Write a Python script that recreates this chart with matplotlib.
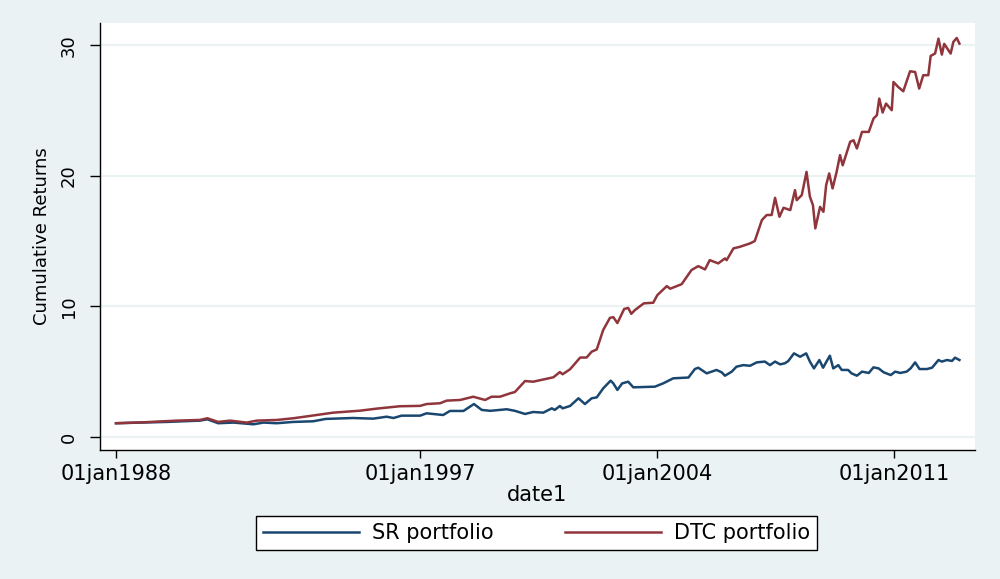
import matplotlib
matplotlib.use("Agg")
import matplotlib.pyplot as plt

# dates as decimal years
dtc_t = [1988.0, 1988.8, 1989.8, 1990.48, 1990.7, 1991.02, 1991.37, 1991.86, 1992.16, 1992.75,
         1993.24, 1993.93, 1994.42, 1995.21, 1995.71, 1996.39, 1996.99, 1997.18, 1997.58, 1997.77,
         1998.17, 1998.56, 1998.91, 1999.1, 1999.35, 1999.65, 1999.79, 2000.09, 2000.33, 2000.63,
         2000.93, 2001.12, 2001.2, 2001.42, 2001.72, 2001.91, 2002.06, 2002.21, 2002.4, 2002.6,
         2002.7, 2002.82, 2003.02, 2003.14, 2003.23, 2003.34, 2003.6, 2003.88, 2004.0, 2004.28,
         2004.38, 2004.72, 2005.01, 2005.21, 2005.41, 2005.55, 2005.8, 2006.0, 2006.05, 2006.25,
         2006.44, 2006.74, 2006.88, 2007.09, 2007.23, 2007.38, 2007.48, 2007.61, 2007.73, 2007.93,
         2008.07, 2008.12, 2008.27, 2008.41, 2008.51, 2008.6, 2008.67, 2008.81, 2008.91, 2008.99,
         2009.08, 2009.18, 2009.3, 2009.4, 2009.48, 2009.7, 2009.8, 2009.9, 2010.05, 2010.25,
         2010.39, 2010.49, 2010.56, 2010.66, 2010.76, 2010.93, 2010.98, 2011.12, 2011.27, 2011.47,
         2011.62, 2011.74, 2011.86, 2012.01, 2012.08, 2012.21, 2012.31, 2012.41, 2012.48, 2012.67,
         2012.75, 2012.85, 2012.93]
dtc_v = [1.05, 1.12, 1.25, 1.30, 1.43, 1.15, 1.25, 1.10, 1.25, 1.30,
         1.43, 1.68, 1.86, 2.01, 2.17, 2.35, 2.38, 2.52, 2.58, 2.78,
         2.83, 3.08, 2.83, 3.08, 3.08, 3.34, 3.44, 4.28, 4.23, 4.40,
         4.57, 4.97, 4.80, 5.18, 6.08, 6.08, 6.53, 6.70, 8.19, 9.12,
         9.17, 8.72, 9.80, 9.88, 9.43, 9.72, 10.23, 10.28, 10.86, 11.55,
         11.35, 11.70, 12.78, 13.08, 12.83, 13.54, 13.29, 13.67, 13.54, 14.44,
         14.56, 14.82, 15.0, 16.6, 16.99, 17.0, 18.31, 16.86, 17.55, 17.37,
         18.9, 18.13, 18.52, 20.3, 18.39, 17.75, 15.97, 17.62, 17.24, 19.28,
         20.18, 19.03, 20.3, 21.58, 20.8, 22.6, 22.72, 22.09, 23.36, 23.36,
         24.38, 24.64, 25.91, 24.84, 25.53, 25.02, 27.18, 26.8, 26.47, 28.0,
         27.95, 26.68, 27.7, 27.7, 29.18, 29.36, 30.5, 29.28, 30.1, 29.36,
         30.25, 30.55, 30.12]

sr_t = [1988.0, 1989.5, 1990.48, 1990.7, 1991.02, 1991.47, 1992.06, 1992.36, 1992.75, 1993.24,
        1993.83, 1994.2, 1995.0, 1995.6, 1996.0, 1996.2, 1996.44, 1996.99, 1997.18, 1997.67,
        1997.87, 1998.27, 1998.58, 1998.81, 1999.06, 1999.55, 1999.79, 2000.09, 2000.33, 2000.63,
        2000.88, 2000.97, 2001.12, 2001.2, 2001.42, 2001.67, 2001.86, 2002.06, 2002.21, 2002.4,
        2002.62, 2002.7, 2002.82, 2002.96, 2003.14, 2003.29, 2003.93, 2004.18, 2004.47, 2004.92,
        2005.11, 2005.21, 2005.46, 2005.75, 2005.9, 2006.0, 2006.2, 2006.34, 2006.54, 2006.74,
        2006.94, 2007.18, 2007.33, 2007.48, 2007.63, 2007.77, 2007.87, 2008.04, 2008.22, 2008.4,
        2008.51, 2008.63, 2008.79, 2008.9, 2009.0, 2009.1, 2009.2, 2009.35, 2009.45, 2009.64,
        2009.74, 2009.9, 2010.05, 2010.25, 2010.39, 2010.54, 2010.69, 2010.9, 2011.03, 2011.18,
        2011.37, 2011.49, 2011.62, 2011.75, 2011.97, 2012.12, 2012.31, 2012.41, 2012.56, 2012.71,
        2012.8, 2012.93]
sr_v = [1.05, 1.15, 1.25, 1.35, 1.05, 1.10, 0.97, 1.10, 1.05, 1.15,
        1.20, 1.38, 1.45, 1.40, 1.55, 1.45, 1.63, 1.63, 1.81, 1.68,
        1.99, 1.99, 2.52, 2.07, 2.0, 2.12, 2.0, 1.76, 1.91, 1.86,
        2.19, 2.07, 2.37, 2.19, 2.37, 2.96, 2.52, 2.96, 3.03, 3.72,
        4.31, 4.10, 3.60, 4.10, 4.23, 3.80, 3.85, 4.11, 4.49, 4.55,
        5.2, 5.3, 4.87, 5.13, 4.95, 4.69, 5.0, 5.38, 5.5, 5.45,
        5.71, 5.77, 5.5, 5.77, 5.56, 5.64, 5.81, 6.4, 6.14, 6.4,
        5.77, 5.25, 5.89, 5.3, 5.77, 6.22, 5.25, 5.5, 5.13, 5.13,
        4.87, 4.69, 5.0, 4.9, 5.33, 5.25, 4.95, 4.74, 5.0, 4.9,
        5.0, 5.26, 5.71, 5.2, 5.2, 5.3, 5.89, 5.77, 5.89, 5.82,
        6.07, 5.89]

x_ticks = [1988, 1997, 2004, 2011]
x_labels = ["01jan1988", "01jan1997", "01jan2004", "01jan2011"]
y_ticks = [0, 10, 20, 30]

bg = "#EAF2F3"
navy = "#1A476F"
maroon = "#90353B"

plt.rcParams["font.family"] = ["DejaVu Sans"]

fig = plt.figure(figsize=(10, 5.79), dpi=100, facecolor=bg)
ax = fig.add_axes([0.100, 0.2228, 0.875, 0.7375])
ax.set_facecolor("white")

ax.plot(sr_t, sr_v, color=navy, lw=1.8, label="SR portfolio")
ax.plot(dtc_t, dtc_v, color=maroon, lw=1.8, label="DTC portfolio")

ax.set_xlim(1987.527, 2013.39)
ax.set_ylim(-1.0, 31.7)

ax.set_xticks(x_ticks)
ax.set_xticklabels(x_labels, fontsize=15)
ax.set_yticks(y_ticks)
ax.set_yticklabels([str(v) for v in y_ticks], fontsize=13, rotation=90, va="center")

for v in y_ticks:
    ax.axhline(v, color=bg, lw=1.6, zorder=0)

ax.tick_params(axis="x", length=6, width=1, pad=4, colors="black")
ax.tick_params(axis="y", length=7, width=1, pad=9, colors="black")

for s in ["top", "right"]:
    ax.spines[s].set_visible(False)
for s in ["left", "bottom"]:
    ax.spines[s].set_color("black")
    ax.spines[s].set_linewidth(1.0)

ax.set_xlabel("date1", fontsize=15, labelpad=1)
ax.set_ylabel("Cumulative Returns", fontsize=13, labelpad=6)

leg = fig.legend(loc="center", bbox_to_anchor=(0.5365, 0.0794), ncol=2, fontsize=15,
                 frameon=True, fancybox=False, framealpha=1, facecolor="white",
                 handlelength=4.6, handletextpad=0.65, columnspacing=3.4, borderpad=0.35)
leg.get_frame().set_edgecolor("black")
leg.get_frame().set_linewidth(1.0)

fig.savefig("out.png", dpi=100, facecolor=bg)
